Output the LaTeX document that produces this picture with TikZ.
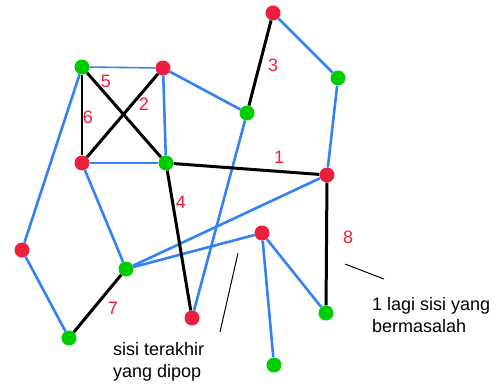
\documentclass[tikz,border=0pt]{standalone}
\usepackage{fontspec}
\setmainfont{Liberation Sans}
\definecolor{vred}{RGB}{237,30,60}
\definecolor{vgreen}{RGB}{0,205,0}
\definecolor{eblue}{RGB}{50,130,245}

\begin{document}
\begin{tikzpicture}[x=1pt, y=-1pt,
    rv/.style={circle, fill=vred, inner sep=0pt, minimum size=15pt},
    gv/.style={circle, fill=vgreen, inner sep=0pt, minimum size=15pt},
    tree/.style={eblue, line width=2.6pt},
    back/.style={black, line width=3pt},
    num/.style={vred, font=\fontsize{18}{18}\selectfont},
    note/.style={align=left, font=\fontsize{18}{22}\selectfont}]
    \useasboundingbox (0,0) rectangle (502,390);

    % vertices
    \node[gv] (a) at (82,67) {};
    \node[rv] (b) at (163,68) {};
    \node[rv] (c) at (82,163) {};
    \node[gv] (d) at (166,163) {};
    \node[rv] (e) at (273,13) {};
    \node[gv] (f) at (338,78) {};
    \node[gv] (g) at (247,113) {};
    \node[rv] (h) at (327,175) {};
    \node[rv] (i) at (22,250) {};
    \node[gv] (j) at (126,269) {};
    \node[gv] (k) at (69,338) {};
    \node[rv] (l) at (192,318) {};
    \node[rv] (m) at (262,233) {};
    \node[gv] (n) at (326,313) {};
    \node[gv] (o) at (274,365) {};

    % tree edges
    \draw[eblue, line width=1.6pt] (a) -- (b);
    \draw[eblue, line width=1.6pt] (c) -- (d);
    \draw[tree] (b) -- (d);
    \draw[tree] (b) -- (g);
    \draw[tree] (e) -- (f);
    \draw[tree] (f) -- (h);
    \draw[tree] (g) -- (l);
    \draw[tree] (a) -- (i);
    \draw[tree] (i) -- (k);
    \draw[tree] (c) -- (j);
    \draw[tree] (j) -- (h);
    \draw[tree] (j) -- (m);
    \draw[tree] (m) -- (n);
    \draw[tree] (m) -- (o);

    % back edges
    \draw[black, line width=1.6pt] (a) -- (c);
    \draw[back] (a) -- (d);
    \draw[back] (b) -- (c);
    \draw[back] (e) -- (g);
    \draw[back] (d) -- (h);
    \draw[back] (d) -- (l);
    \draw[back] (k) -- (j);
    \draw[back] (h) -- (n);

    % edge numbers
    \node[num] (n5) at (106,81) {5};
    \node[num] (n2) at (144,104) {2};
    \node[num] (n6) at (88,117) {6};
    \node[num] (n3) at (273,65) {3};
    \node[num] (n1) at (279,157) {1};
    \node[num] (n4) at (181,202) {4};
    \node[num] (n7) at (113,308) {7};
    \node[num] (n8) at (348,237) {8};

    % notes
    \coordinate (p1) at (238,253);
    \coordinate (p2) at (220,332);
    \draw[black, line width=1pt] (p1) -- (p2);
    \node[note, anchor=north west, inner sep=0pt] (last) at (113,342) {sisi terakhir\\yang dipop};

    \coordinate (q1) at (345,264);
    \coordinate (q2) at (384,279);
    \draw[black, line width=1pt] (q1) -- (q2);
    \node[note, anchor=north west, inner sep=0pt] (more) at (372,297) {1 lagi sisi yang\\bermasalah};
\end{tikzpicture}
\end{document}
